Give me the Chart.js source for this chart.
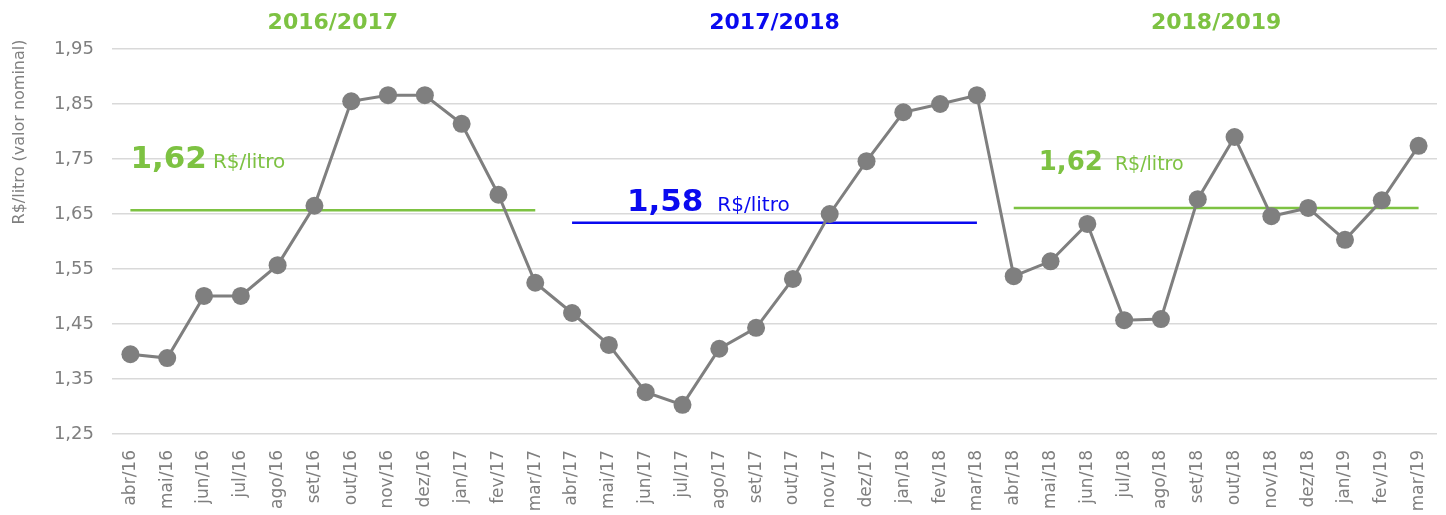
<!DOCTYPE html>
<html><head><meta charset="utf-8">
<script src="https://cdn.jsdelivr.net/npm/chart.js@4/dist/chart.umd.min.js"></script>
<style>html,body{margin:0;padding:0;background:#fff}#wrap{width:1446px;height:515px}</style>
</head><body><div id="wrap"><canvas id="c" width="1446" height="515"></canvas></div>
<script>
const categories = ["abr/16","mai/16","jun/16","jul/16","ago/16","set/16","out/16","nov/16","dez/16","jan/17","fev/17","mar/17",
"abr/17","mai/17","jun/17","jul/17","ago/17","set/17","out/17","nov/17","dez/17","jan/18","fev/18","mar/18",
"abr/18","mai/18","jun/18","jul/18","ago/18","set/18","out/18","nov/18","dez/18","jan/19","fev/19","mar/19"];
const prices = [1.395,1.388,1.501,1.501,1.557,1.665,1.855,1.866,1.866,1.814,1.685,1.525,
1.470,1.412,1.326,1.303,1.405,1.443,1.532,1.650,1.746,1.835,1.850,1.866,
1.537,1.564,1.632,1.457,1.459,1.677,1.790,1.646,1.661,1.603,1.675,1.774];
const avgLine1 = [{x:"abr/16",y:1.657},{x:"mar/17",y:1.657}];
const avgLine2 = [{x:"abr/17",y:1.634},{x:"mar/18",y:1.634}];
const avgLine3 = [{x:"abr/18",y:1.661},{x:"mar/19",y:1.661}];
const seasons = ["2016/2017","2017/2018","2018/2019"];
const avgLabels = ["1,62","1,58","1,62"];
const yTicks = [1.25,1.35,1.45,1.55,1.65,1.75,1.85,1.95];

const GREEN = "#7dc242", BLUE = "#0a0aef", GRAY = "#7f7f7f";
const FONT = "'DejaVu Sans', sans-serif";

const textPlugin = {
  id: 'texts',
  afterDraw(chart) {
    const ctx = chart.ctx, x = chart.scales.x, y = chart.scales.y;
    ctx.save();
    ctx.textAlign = 'center'; ctx.textBaseline = 'middle';
    ctx.font = "bold 22px " + FONT;
    const centers = [(x.getPixelForValue(0)+x.getPixelForValue(11))/2, (x.getPixelForValue(12)+x.getPixelForValue(23))/2, (x.getPixelForValue(24)+x.getPixelForValue(35))/2];
    const cols = [GREEN, BLUE, GREEN];
    seasons.forEach((s,i)=>{ ctx.fillStyle = cols[i]; ctx.fillText(s, centers[i], 23); });
    const pos = [[x.getPixelForValue(0), y.getPixelForValue(1.734)], [x.getPixelForValue(13)+18, y.getPixelForValue(1.655)], [x.getPixelForValue(24)+25, y.getPixelForValue(1.730)]];
    const big = [31, 31, 26], small = [20, 20, 19], gap = [6, 14, 12];
    ctx.textAlign = 'left'; ctx.textBaseline = 'alphabetic';
    avgLabels.forEach((t,i)=>{
      ctx.fillStyle = cols[i];
      ctx.font = "bold " + big[i] + "px " + FONT;
      ctx.fillText(t, pos[i][0], pos[i][1]);
      const w = ctx.measureText(t).width;
      ctx.font = small[i] + "px " + FONT;
      ctx.fillText("R$/litro", pos[i][0] + w + gap[i], pos[i][1]);
    });
    ctx.translate(20, 132);
    ctx.rotate(-Math.PI/2);
    ctx.textAlign = 'center'; ctx.textBaseline = 'middle';
    ctx.fillStyle = "#7f7f7f";
    ctx.font = "16px " + FONT;
    ctx.fillText("R$/litro (valor nominal)", 0, 0);
    ctx.restore();
  }
};

new Chart(document.getElementById('c'), {
  type: 'line',
  data: {
    labels: categories,
    datasets: [
      {data: avgLine1, borderColor: GREEN, borderWidth: 2.5, pointRadius: 0, order: 2},
      {data: avgLine2, borderColor: BLUE, borderWidth: 2.5, pointRadius: 0, order: 2},
      {data: avgLine3, borderColor: GREEN, borderWidth: 2.5, pointRadius: 0, order: 2},
      {data: prices, borderColor: GRAY, borderWidth: 3, pointRadius: 9, pointBackgroundColor: GRAY, pointBorderColor: GRAY, pointBorderWidth: 0, order: 1}
    ]
  },
  options: {
    responsive: false, animation: false,
    layout: {padding: {top: 49, right: 6, left: 0, bottom: 0}},
    plugins: {legend: {display: false}, tooltip: {enabled: false}},
    scales: {
      x: {
        offset: true,
        grid: {display: false, offset: true},
        border: {display: false},
        ticks: {color: "#7f7f7f", font: {family: FONT, size: 17}, maxRotation: 90, minRotation: 90, autoSkip: false, padding: 8},
        afterFit(s){ s.height = 81; s.paddingLeft = 0; s.paddingRight = 0; }
      },
      y: {
        min: 1.25, max: 1.95,
        afterBuildTicks(s){ s.ticks = yTicks.map(v=>({value:v})); },
        grid: {color: "#d9d9d9", lineWidth: 1.5, drawTicks: false},
        border: {display: false},
        ticks: {color: "#7f7f7f", font: {family: FONT, size: 18}, padding: 18, callback: v => v.toFixed(2).replace('.', ',')},
        afterFit(s){ s.width = 112; }
      }
    }
  },
  plugins: [textPlugin]
});
</script></body></html>
